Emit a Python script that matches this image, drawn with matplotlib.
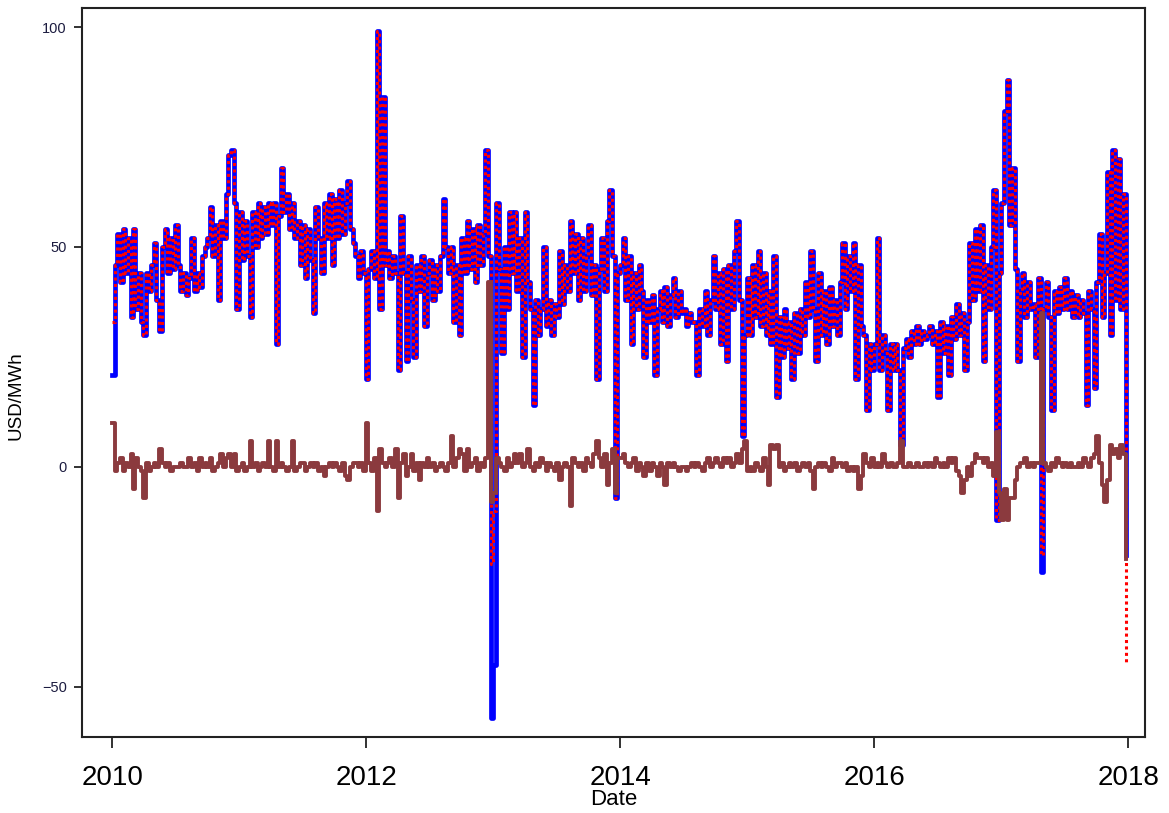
import matplotlib
matplotlib.use("Agg")
import matplotlib.pyplot as plt
import pandas as pd

# weekly readings (4 per month: 1st, 8th, 16th, 24th), one list per year
years = [2010, 2011, 2012, 2013, 2014, 2015, 2016, 2017]
days = [1, 8, 16, 24]

blue_2010 = [21, 46, 53, 42, 54, 44, 52, 34, 54, 36, 44, 33, 30, 44, 40, 46,
             51, 38, 31, 50, 54, 44, 52, 45, 55, 46, 40, 44, 39, 43, 52, 40,
             44, 41, 48, 50, 52, 59, 48, 55, 38, 56, 52, 62, 71, 72, 60, 36]
blue_2011 = [58, 47, 56, 48, 34, 58, 50, 60, 52, 59, 53, 60, 55, 60, 28, 57,
             68, 58, 62, 54, 60, 52, 56, 46, 55, 43, 54, 47, 35, 59, 52, 44,
             60, 52, 62, 46, 61, 52, 63, 53, 60, 65, 54, 51, 48, 43, 49, 44]
blue_2012 = [20, 45, 49, 43, 99, 36, 84, 46, 49, 43, 48, 44, 22, 57, 44, 24,
             48, 38, 25, 46, 40, 48, 32, 44, 47, 38, 46, 40, 48, 61, 50, 44,
             50, 33, 46, 30, 52, 44, 56, 45, 54, 42, 55, 46, 53, 72, 48, -57]
blue_2013 = [-45, 60, 45, 26, 50, 36, 58, 44, 58, 40, 52, 25, 58, 42, 36, 14,
             38, 30, 36, 50, 32, 38, 30, 37, 34, 49, 37, 46, 40, 56, 44, 53,
             38, 52, 40, 48, 55, 39, 46, 20, 45, 52, 40, 56, 63, 48, -7, 44]
blue_2014 = [46, 52, 38, 48, 28, 44, 36, 46, 40, 25, 38, 33, 39, 21, 36, 40,
             33, 41, 32, 39, 43, 34, 40, 35, 36, 32, 35, 33, 33, 21, 36, 32,
             40, 30, 38, 48, 36, 44, 28, 45, 24, 46, 36, 49, 56, 38, 7, 30]
blue_2015 = [43, 30, 46, 34, 49, 32, 44, 30, 40, 28, 48, 16, 34, 25, 36, 27,
             33, 20, 35, 26, 36, 30, 42, 34, 49, 36, 24, 44, 30, 40, 28, 41,
             32, 38, 30, 42, 51, 36, 48, 40, 51, 20, 46, 32, 30, 13, 28, 22]
blue_2016 = [28, 52, 22, 30, 26, 13, 28, 22, 28, 22, 5, 27, 29, 25, 31, 28,
             32, 28, 31, 29, 30, 32, 28, 31, 16, 33, 26, 32, 21, 34, 29, 37,
             30, 35, 22, 33, 51, 38, 54, 40, 55, 24, 46, 36, 50, 63, -12, 44]
blue_2017 = [60, 81, 88, 55, 68, 45, 24, 40, 44, 34, 42, 36, 37, 25, 43, -24,
             36, 42, 34, 13, 40, 35, 41, 36, 43, 36, 40, 34, 39, 34, 38, 35,
             14, 40, 36, 18, 42, 53, 34, 44, 67, 30, 72, 38, 70, 36, 62, -20]

# red series follows blue except at these dates
red_diff = {"2010-01-01": 33, "2012-12-24": -22, "2013-01-01": -10,
            "2017-04-24": -20, "2017-12-24": -45}

brown_2010 = [10, -1, 1, 2, -1, 1, 0, 3, -5, 2, 0, -1, -7, 1, -1, 0,
              1, 0, 4, 1, 0, 1, -1, 0, 0, 0, 1, 0, 0, 2, 0, 1,
              -1, 2, 0, 1, 0, 2, -1, 0, 1, 3, 0, 2, 3, 0, 3, -1]
brown_2011 = [0, 1, -1, 0, 6, 0, 1, -1, 0, 1, 0, 6, 0, -1, 6, 0,
              1, 0, -1, 0, 6, -1, 0, 1, 1, -1, 0, 1, 0, 1, -1, 0,
              -2, 0, 1, 0, 1, 0, -1, 1, -2, -3, 0, 1, 1, 0, 1, -1]
brown_2012 = [10, 1, -1, 2, -10, 4, 1, 0, 1, 2, 0, 4, -7, 1, 3, -2,
              0, 3, -1, 1, -3, 1, 0, 2, 0, 1, -1, 0, 1, 0, -1, 1,
              7, 0, 2, 4, 3, -1, 4, 0, 1, 2, -1, 1, 0, 2, 42, -8]
brown_2013 = [-6, 2, 1, 0, -1, 2, 0, 1, 3, 1, 3, 0, 1, 4, 0, -1,
              1, 0, 2, 1, -1, 1, 0, -1, 1, -3, 0, 1, 0, -9, 2, 1,
              0, 1, -1, 2, 1, 0, 3, 6, 2, 0, 3, -4, 1, 4, -6, 2]
brown_2014 = [2, 3, 1, 0, 1, 2, -1, 1, 0, -2, 1, -1, 1, 0, -2, 1,
              0, -4, 1, 0, 1, 0, -1, 0, 0, -1, 0, 1, 0, 1, 0, -1,
              1, 2, 0, 1, 2, 1, 0, 2, 1, 2, 0, 1, 3, 1, 4, 6]
brown_2015 = [-1, 0, -1, 1, 0, -1, 2, 0, -4, 5, 4, 5, 0, 1, -1, 0,
              1, 0, 1, -1, 0, 1, 0, 1, -1, -5, 0, 1, 0, 1, 0, -1,
              2, 0, 1, 1, 0, 1, -1, 0, -1, 0, -5, -2, 3, 1, 0, 2]
brown_2016 = [0, 1, 0, 3, 1, 0, 1, 0, 0, 1, 6, 0, 0, 1, 0, 0,
              1, 0, 0, 1, 0, 1, 0, 2, 1, 0, 1, 0, 2, 1, 2, -1,
              -2, -6, -3, 0, -2, 1, 3, 2, 2, 1, 2, 0, 1, -2, 8, -6]
brown_2017 = [-12, -5, -12, -7, -7, -3, 0, 1, 1, 2, 0, 1, 0, 1, 1, 35,
              1, 0, -1, 1, 0, 2, 1, 0, 1, 0, 1, 0, 0, 1, 0, 2,
              1, 0, 2, 3, 7, 1, -4, -8, -3, 5, 3, 4, 2, 5, 3, -21]

tick_years = [2010, 2012, 2014, 2016, 2018]


def main():
    dates = pd.to_datetime(["%d-%02d-%02d" % (y, m, d)
                            for y in years for m in range(1, 13) for d in days])
    blue = pd.Series(blue_2010 + blue_2011 + blue_2012 + blue_2013 +
                     blue_2014 + blue_2015 + blue_2016 + blue_2017, index=dates)
    brown = pd.Series(brown_2010 + brown_2011 + brown_2012 + brown_2013 +
                      brown_2014 + brown_2015 + brown_2016 + brown_2017, index=dates)
    red = blue.copy()
    for d, v in red_diff.items():
        red[pd.Timestamp(d)] = v

    fig = plt.figure(figsize=(11.69, 8.13), dpi=100)
    ax = fig.add_axes([0.0701, 0.0935, 0.9094, 0.8965])
    ax.plot(blue.index, blue.values, color="#0000FF", lw=3.4,
            drawstyle="steps-post", zorder=2)
    ax.plot(red.index, red.values, color="#FF0000", lw=2.2,
            linestyle=(0, (1, 1.1)), dash_capstyle="butt",
            drawstyle="steps-post", zorder=3)
    ax.plot(brown.index, brown.values, color="#8B3A3E", lw=2.8,
            drawstyle="steps-post", zorder=4)

    ax.set_xlim(pd.Timestamp("2009-10-06"), pd.Timestamp("2018-02-18"))
    ax.set_ylim(-61.4, 104.3)
    ax.set_yticks([-50, 0, 50, 100])
    ax.set_xticks([pd.Timestamp("%d-01-01" % y) for y in tick_years])
    ax.set_xticklabels([str(y) for y in tick_years])

    for s in ax.spines.values():
        s.set_linewidth(1.5)
        s.set_color("#222222")
    ax.tick_params(axis="y", labelsize=10.5, length=6, width=1.3,
                   pad=5, labelcolor="#1c1c40", color="#222222")
    ax.tick_params(axis="x", labelsize=20, length=8, width=1.3,
                   pad=12, color="#222222")

    fnt = "Liberation Sans"
    for lab in ax.get_xticklabels() + ax.get_yticklabels():
        lab.set_fontfamily(fnt)
    ax.set_ylabel("USD/MWh", fontsize=13.5, family=fnt)
    ax.yaxis.set_label_coords(-0.054, 0.468)
    ax.set_xlabel("Date", fontsize=16, family=fnt)
    ax.xaxis.set_label_coords(0.5, -0.071)

    fig.savefig("out.png", dpi=100)


if __name__ == '__main__':
    main()
